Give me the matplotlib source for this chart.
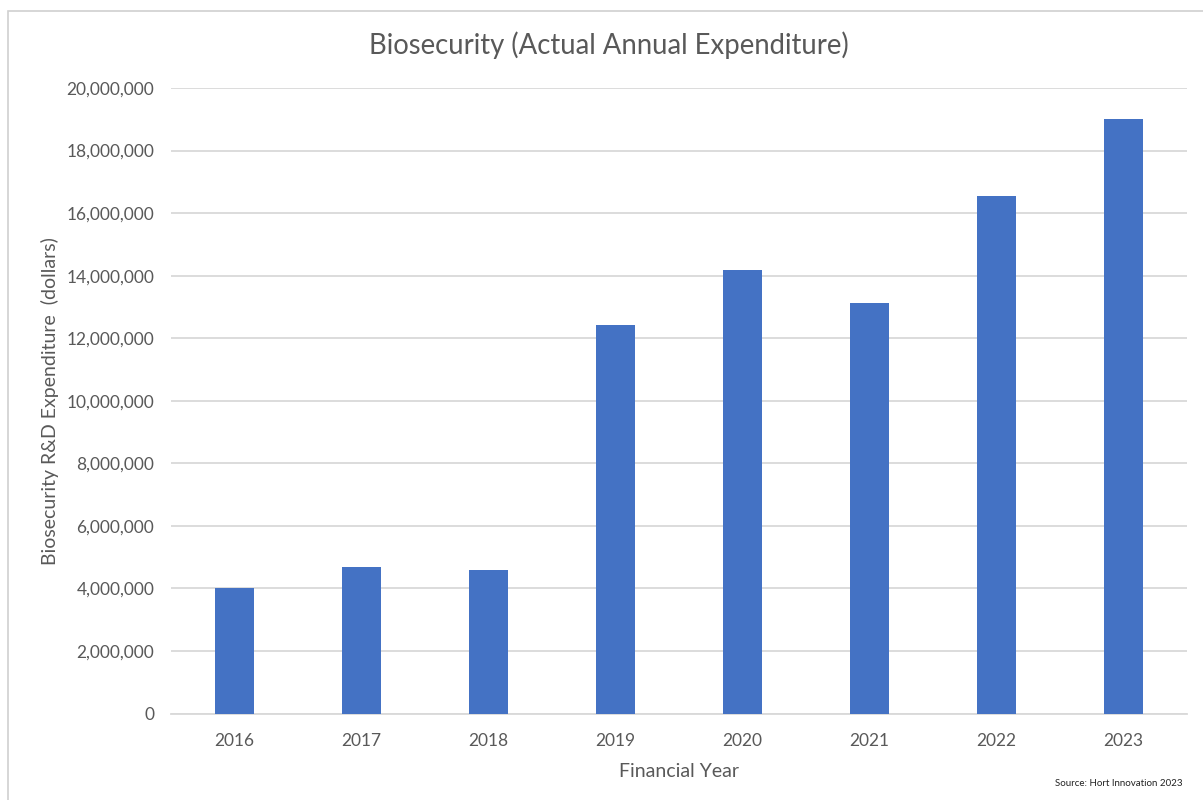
import matplotlib
matplotlib.use('Agg')
import matplotlib.pyplot as plt
from matplotlib.patches import Rectangle
from matplotlib.ticker import FuncFormatter

years = ['2016', '2017', '2018', '2019', '2020', '2021', '2022', '2023']
spend = [4030000, 4700000, 4600000, 12410000, 14170000, 13130000, 16540000, 19000000]

plt.rcParams['font.family'] = ['Lato', 'DejaVu Sans']
grey = '#595959'

fig = plt.figure(figsize=(12.03, 8), dpi=100)
ax = fig.add_axes([0.1421, 0.108, 0.8446, 0.782])

ax.bar(years, spend, width=0.31, color='#4472C4', zorder=3)
ax.set_xlim(-0.5, len(years) - 0.5)
ax.set_ylim(0, 20000000)
ax.set_yticks(range(0, 20000001, 2000000))
ax.yaxis.set_major_formatter(FuncFormatter(lambda v, p: f'{int(v):,}'))
ax.grid(axis='y', color='#D9D9D9', linewidth=1.3, zorder=0)
for s in ['top', 'right', 'left']:
    ax.spines[s].set_visible(False)
ax.spines['bottom'].set_color('#D9D9D9')
ax.spines['bottom'].set_linewidth(1.3)
ax.tick_params(length=0, labelsize=12.5, colors=grey)
ax.tick_params(axis='y', pad=12)
ax.tick_params(axis='x', pad=14)

fig.text(0.506, 0.943, 'Biosecurity (Actual Annual Expenditure)', fontsize=19.8,
         color=grey, ha='center', va='center')
ax.set_xlabel('Financial Year', fontsize=14, color=grey, labelpad=10)
ax.set_ylabel('Biosecurity R&D Expenditure  (dollars)', fontsize=14, color=grey, labelpad=5)

fig.text(0.877, 0.018, 'Source: Hort Innovation 2023', fontsize=7, color='#222222')
fig.patches.append(Rectangle((0.007, -0.05), 1.1, 1.036, transform=fig.transFigure,
                             fill=False, edgecolor='#D0D0D0', linewidth=1.2))

fig.savefig('out.png', dpi=100)
